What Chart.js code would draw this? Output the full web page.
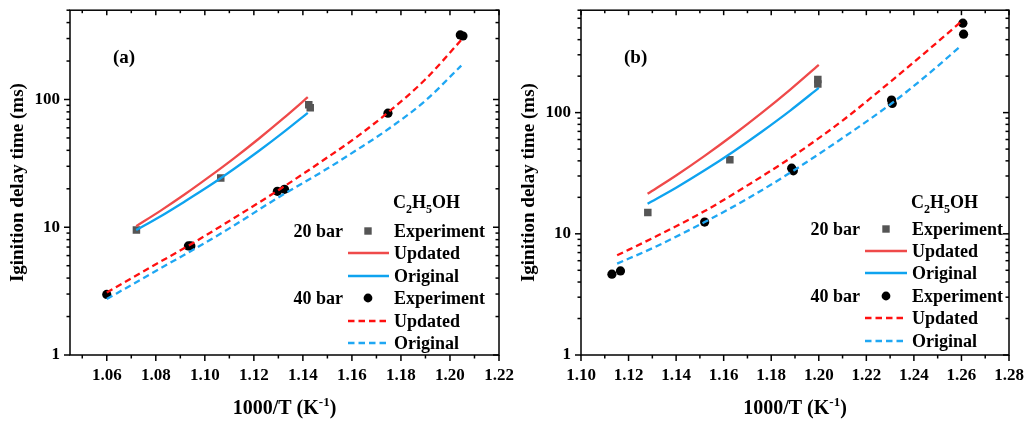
<!DOCTYPE html>
<html><head><meta charset="utf-8">
<script src="https://cdn.jsdelivr.net/npm/chart.js@4.4.1/dist/chart.umd.min.js"></script>
<style>
html,body{margin:0;padding:0;background:#fff;width:1027px;height:421px;overflow:hidden}
#ca{position:absolute;left:0;top:0}
#cb{position:absolute;left:511px;top:0}
</style></head>
<body>
<canvas id="ca" width="520" height="421"></canvas>
<canvas id="cb" width="516" height="421"></canvas>
<script>
// ---------- Panel (a) data ----------
const aExpX20 = [1.0721, 1.1065, 1.1424, 1.1430];
const aExpY20 = [9.5, 24.3, 90.9, 86.1];
const aExpX40 = [1.0600, 1.0933, 1.0943, 1.1296, 1.1325, 1.1747, 1.2042, 1.2053];
const aExpY40 = [2.98, 7.14, 7.14, 19.1, 19.8, 78.2, 320, 314];
const aLineX20 = [1.072, 1.082, 1.092, 1.102, 1.112, 1.122, 1.132, 1.142];
const aUpd20  = [10.2, 13.5, 18.2, 25.0, 34.8, 49.3, 71.1, 104.2];
const aOrig20 = [9.5, 12.2, 16.0, 21.2, 28.7, 39.5, 55.3, 78.7];
const aLineX40 = [1.06, 1.07, 1.08, 1.0935, 1.11, 1.13, 1.15, 1.162, 1.175, 1.19, 1.2046];
const aUpd40  = [3.09, 3.98, 5.13, 7.2, 11.2, 19.5, 35.2, 51, 80, 144, 292];
const aOrig40 = [2.74, 3.53, 4.55, 6.38, 9.8, 17.1, 28.8, 40.3, 59, 98, 184];
const aXTicks = [1.06, 1.08, 1.10, 1.12, 1.14, 1.16, 1.18, 1.20, 1.22];
const aXMinor = [1.05, 1.07, 1.09, 1.11, 1.13, 1.15, 1.17, 1.19, 1.21];

// ---------- Panel (b) data ----------
const bExpX20 = [1.1281, 1.1626, 1.1996, 1.1996];
const bExpY20 = [15.0, 40.8, 188, 172];
const bExpX40 = [1.1130, 1.1166, 1.1520, 1.1886, 1.1893, 1.2306, 1.2309, 1.2606, 1.2609];
const bExpY40 = [4.64, 4.94, 12.5, 34.8, 33.1, 127, 119, 547, 444];
const bLineX20 = [1.128, 1.14, 1.152, 1.164, 1.176, 1.188, 1.2];
const bUpd20  = [21.4, 30.3, 44.0, 65.4, 99.5, 155, 248];
const bOrig20 = [17.7, 24.0, 33.4, 47.6, 69.6, 104, 160];
const bLineX40 = [1.1152, 1.13, 1.152, 1.17, 1.1886, 1.21, 1.2306, 1.245, 1.26];
const bUpd40  = [6.65, 9.2, 15.4, 25.1, 42.9, 86, 183, 316, 565];
const bOrig40 = [5.68, 7.6, 12.5, 19.5, 32.5, 61.7, 119, 200, 358];
const bXTicks = [1.10, 1.12, 1.14, 1.16, 1.18, 1.20, 1.22, 1.24, 1.26, 1.28];
const bXMinor = [1.11, 1.13, 1.15, 1.17, 1.19, 1.21, 1.23, 1.25, 1.27];

// ---------- shared ----------
const yMajor = [1, 10, 100];
const yMinorA = [2,3,4,5,6,7,8,9,20,30,40,50,60,70,80,90,200,300,400,500];
const yMinorB = [2,3,4,5,6,7,8,9,20,30,40,50,60,70,80,90,200,300,400,500,600,700];
const legendLabels = ['Experiment', 'Updated', 'Original', 'Experiment', 'Updated', 'Original'];
const groupLabels = ['20 bar', '40 bar'];
const yTitle = 'Iginition delay time (ms)';

const FONT = "'Liberation Serif', 'Times New Roman', serif";
const C_RED = '#ef4a4a', C_BLUE = '#0ea3ef', C_RED_D = '#ff1010', C_BLUE_D = '#1fa7f3';

const pts = (xs, ys) => xs.map((x, i) => ({x, y: ys[i]}));

function makeDatasets(L20x, u20, o20, L40x, u40, o40, e20x, e20y, e40x, e40y) {
  const line = (data, color, dash) => ({
    type: 'line', data, borderColor: color, borderWidth: 2.3, borderDash: dash,
    pointRadius: 0, showLine: true, fill: false, cubicInterpolationMode: 'monotone'
  });
  return [
    line(pts(L20x, u20), C_RED, []),
    line(pts(L20x, o20), C_BLUE, []),
    line(pts(L40x, u40), C_RED_D, [6.5, 4]),
    line(pts(L40x, o40), C_BLUE_D, [6.5, 4]),
    {type: 'scatter', data: pts(e20x, e20y), pointStyle: 'rect', pointRadius: 5.3,
     backgroundColor: '#555555', borderWidth: 0, showLine: false},
    {type: 'scatter', data: pts(e40x, e40y), pointStyle: 'circle', pointRadius: 4.6,
     backgroundColor: '#000000', borderWidth: 0, showLine: false}
  ];
}

function decoPlugin(p) {
  return {
    id: 'deco',
    afterDraw(chart) {
      const ctx = chart.ctx, ca = chart.chartArea;
      const xs = chart.scales.x, ys = chart.scales.y;
      ctx.save();
      ctx.strokeStyle = '#000';
      ctx.lineWidth = 1.5;
      ctx.lineCap = 'butt';
      const seg = (x1, y1, x2, y2) => { ctx.beginPath(); ctx.moveTo(x1, y1); ctx.lineTo(x2, y2); ctx.stroke(); };
      ctx.strokeRect(ca.left, ca.top, ca.right - ca.left, ca.bottom - ca.top);
      p.xMajor.forEach(v => { const x = xs.getPixelForValue(v); seg(x, ca.bottom, x, ca.bottom + 6); seg(x, ca.top, x, ca.top + 5); });
      p.xMinor.forEach(v => { const x = xs.getPixelForValue(v); seg(x, ca.bottom, x, ca.bottom + 3.5); seg(x, ca.top, x, ca.top + 3); });
      yMajor.forEach(v => { const y = ys.getPixelForValue(v); seg(ca.left - 6, y, ca.left, y); seg(ca.right - 6, y, ca.right, y); });
      p.yMinor.forEach(v => { const y = ys.getPixelForValue(v); seg(ca.left - 3.5, y, ca.left, y); seg(ca.right - 3.5, y, ca.right, y); });

      // x title with superscript
      ctx.fillStyle = '#000';
      ctx.textBaseline = 'alphabetic';
      const f1 = 'bold 20px ' + FONT, f2 = 'bold 13px ' + FONT;
      const parts = [['1000/T (K', f1, 0], ['-1', f2, -8], [')', f1, 0]];
      let w = 0;
      parts.forEach(pp => { ctx.font = pp[1]; w += ctx.measureText(pp[0]).width; });
      let x = (ca.left + ca.right) / 2 - w / 2;
      const by = 414;
      parts.forEach(pp => { ctx.font = pp[1]; ctx.textAlign = 'left'; ctx.fillText(pp[0], x, by + pp[2]); x += ctx.measureText(pp[0]).width; });

      // panel label
      ctx.font = 'bold 19px ' + FONT;
      ctx.textAlign = 'left';
      ctx.textBaseline = 'middle';
      ctx.fillText(p.label, p.labelX, 58);

      // legend header C2H5OH
      const lg = p.legend;
      const hf = 'bold 18px ' + FONT, sf = 'bold 12px ' + FONT;
      const hparts = [['C', hf, 0], ['2', sf, 5], ['H', hf, 0], ['5', sf, 5], ['OH', hf, 0]];
      x = lg.headerX;
      ctx.textBaseline = 'alphabetic';
      hparts.forEach(pp => { ctx.font = pp[1]; ctx.fillText(pp[0], x, lg.headerY + 6 + pp[2]); x += ctx.measureText(pp[0]).width; });

      // legend rows
      const ds = chart.data.datasets;
      const rowDs = [4, 0, 1, 5, 2, 3];
      ctx.textBaseline = 'middle';
      rowDs.forEach((di, i) => {
        const y = lg.rowY[i];
        const d = ds[di];
        if (i === 0 || i === 3) {
          ctx.font = 'bold 18px ' + FONT;
          ctx.textAlign = 'right';
          ctx.fillStyle = '#000';
          ctx.fillText(groupLabels[i === 0 ? 0 : 1], lg.prefixRight, y + 1);
          ctx.fillStyle = d.backgroundColor;
          if (d.pointStyle === 'rect') {
            ctx.fillRect(lg.markerX - 3.7, y - 3.7, 7.4, 7.4);
          } else {
            ctx.beginPath(); ctx.arc(lg.markerX, y, 4.4, 0, Math.PI * 2); ctx.fill();
          }
        } else {
          ctx.strokeStyle = d.borderColor;
          ctx.lineWidth = 2.3;
          ctx.setLineDash(d.borderDash);
          seg(lg.lineX1, y, lg.lineX2, y);
          ctx.setLineDash([]);
        }
        ctx.fillStyle = '#000';
        ctx.font = 'bold 18px ' + FONT;
        ctx.textAlign = 'left';
        ctx.fillText(legendLabels[i], lg.textX, y + 1);
      });
      ctx.restore();
    }
  };
}

function makeChart(id, cfg) {
  new Chart(document.getElementById(id), {
    type: 'scatter',
    data: {datasets: cfg.datasets},
    options: {
      responsive: false,
      animation: false,
      devicePixelRatio: 1,
      layout: {padding: {top: 10, right: cfg.padRight, left: 0, bottom: 0}},
      plugins: {legend: {display: false}, tooltip: {enabled: false}},
      scales: {
        x: {
          type: 'linear', min: cfg.xMin, max: cfg.xMax,
          afterBuildTicks: s => { s.ticks = cfg.xMajor.map(v => ({value: v})); },
          afterFit: s => { s.height = 66; },
          grid: {display: false, drawTicks: true, tickLength: 10},
          border: {display: false},
          ticks: {padding: 0, color: '#000', font: {family: FONT, size: 17, weight: 'bold'},
                  maxRotation: 0, autoSkip: false, callback: v => Number(v).toFixed(2)}
        },
        y: {
          type: 'logarithmic', min: 1, max: cfg.yMax,
          afterBuildTicks: s => { s.ticks = yMajor.map(v => ({value: v})); },
          afterFit: s => { s.width = 70; },
          grid: {display: false, drawTicks: true, tickLength: 10},
          border: {display: false},
          ticks: {padding: 0, color: '#000', font: {family: FONT, size: 17, weight: 'bold'},
                  autoSkip: false, callback: v => String(v)},
          title: {display: true, text: yTitle, color: '#000', padding: {top: 7, bottom: 0},
                  font: {family: FONT, size: 19, weight: 'bold'}}
        }
      }
    },
    plugins: [decoPlugin(cfg)]
  });
}

makeChart('ca', {
  datasets: makeDatasets(aLineX20, aUpd20, aOrig20, aLineX40, aUpd40, aOrig40, aExpX20, aExpY20, aExpX40, aExpY40),
  xMin: 1.045, xMax: 1.22, yMax: 500, padRight: 21,
  xMajor: aXTicks, xMinor: aXMinor, yMinor: yMinorA,
  label: '(a)', labelX: 113,
  legend: {headerX: 393, headerY: 202, prefixRight: 343, markerX: 368, lineX1: 348, lineX2: 389, textX: 394,
           rowY: [231, 253, 276, 298, 321, 343]}
});

makeChart('cb', {
  datasets: makeDatasets(bLineX20, bUpd20, bOrig20, bLineX40, bUpd40, bOrig40, bExpX20, bExpY20, bExpX40, bExpY40),
  xMin: 1.10, xMax: 1.28, yMax: 700, padRight: 18,
  xMajor: bXTicks, xMinor: bXMinor, yMinor: yMinorB,
  label: '(b)', labelX: 113,
  legend: {headerX: 400, headerY: 202, prefixRight: 349, markerX: 375, lineX1: 354, lineX2: 396, textX: 401,
           rowY: [229, 251, 273, 296, 318, 341]}
});
</script>
</body></html>
